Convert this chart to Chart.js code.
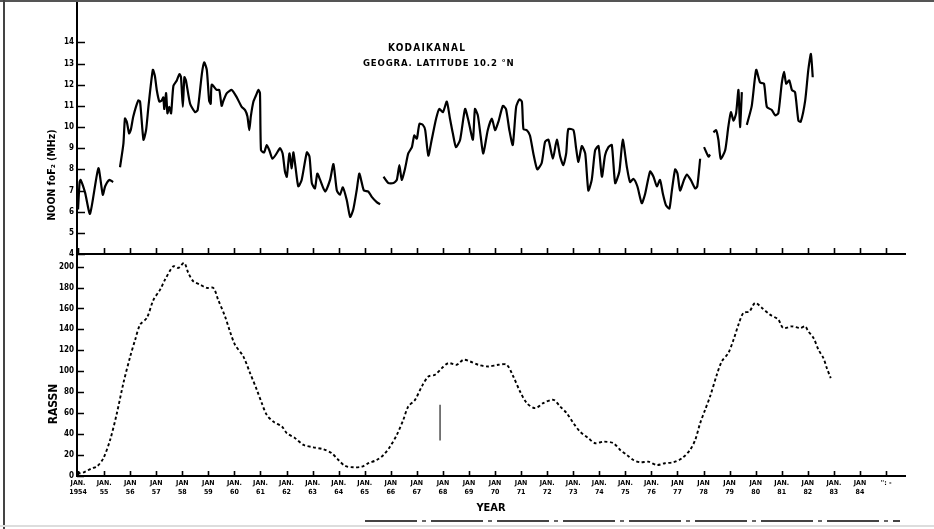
<!DOCTYPE html>
<html>
<head>
<meta charset="utf-8">
<script src="https://cdn.jsdelivr.net/npm/chart.js@4.4.1/dist/chart.umd.min.js"></script>
<style>
  body { margin: 0; background: #fff; }
  #page { position: relative; width: 934px; height: 529px; overflow: hidden; background: #fff;
          font-family: 'DejaVu Sans Condensed', 'DejaVu Sans', sans-serif; font-weight: bold; color: #000; }
  canvas { position: absolute; left: 0; }
  .txt { position: absolute; white-space: nowrap; line-height: 1; }
  .rot { transform: translate(-50%, -50%) rotate(-90deg); }
  .frame { position: absolute; }
</style>
</head>
<body>
<div id="page">
  <canvas id="foChart" width="934" height="274"></canvas>
  <canvas id="rsChart" width="934" height="290"></canvas>

  <div class="txt" style="left:388px; top:43px; font-size:10px; letter-spacing:1.2px;">KODAIKANAL</div>
  <div class="txt" style="left:363px; top:58px; font-size:9.5px; letter-spacing:0.85px;">GEOGRA. LATITUDE 10.2 °N</div>
  <div class="txt rot" style="left:51px; top:175px; font-size:10.5px;">NOON foF₂ (MHz)</div>
  <div class="txt rot" style="left:53px; top:404px; font-size:12px;">RASSN</div>

  <div class="frame" style="left:0; top:0; width:934px; height:2px; background:#555;"></div>
  <div class="frame" style="left:3px; top:0; width:2px; height:529px; background:#444;"></div>
  <div class="frame" style="left:0; top:525px; width:934px; height:2px; background:#ddd;"></div>
  <div class="frame" style="left:365px; top:520px; width:535px; height:1.5px;
       background: repeating-linear-gradient(90deg, #444 0 52px, transparent 52px 57px, #666 57px 61px, transparent 61px 66px);"></div>
</div>

<script>
// noon foF2 (MHz), null = gap in the record
const fof2Year = [
  1954.00, 1954.06, 1954.10, 1954.27, 1954.46, 1954.78, 1954.95, 1955.04, 1955.20, 1955.35,
  1955.48,
  1955.61, 1955.74, 1955.80, 1955.87, 1955.96, 1956.03, 1956.12, 1956.31, 1956.38, 1956.51,
  1956.61, 1956.70, 1956.87, 1956.95, 1957.02, 1957.12, 1957.21, 1957.27, 1957.31, 1957.38,
  1957.43, 1957.50, 1957.57, 1957.66, 1957.79, 1957.89, 1957.95, 1958.02, 1958.08, 1958.14,
  1958.30, 1958.49, 1958.59, 1958.75, 1958.84, 1958.94, 1959.03, 1959.09, 1959.13, 1959.32,
  1959.42, 1959.51, 1959.58, 1959.71, 1959.90, 1960.09, 1960.28, 1960.41, 1960.50, 1960.57,
  1960.63, 1960.73, 1960.83, 1960.92, 1960.98, 1961.02, 1961.14, 1961.24, 1961.34, 1961.46,
  1961.62, 1961.75, 1961.85, 1961.94, 1962.01, 1962.11, 1962.20, 1962.26, 1962.33, 1962.45,
  1962.58, 1962.78, 1962.88, 1962.97, 1963.09, 1963.18, 1963.29, 1963.48, 1963.67, 1963.80,
  1963.93, 1964.05, 1964.16, 1964.31, 1964.44, 1964.56, 1964.69, 1964.79, 1964.89, 1964.97,
  1965.14, 1965.27, 1965.46, 1965.59,
  1965.66,
  1965.72, 1965.91, 1966.10, 1966.23, 1966.33, 1966.42, 1966.55, 1966.67, 1966.81, 1966.90,
  1967.00, 1967.10, 1967.23, 1967.32, 1967.44, 1967.57, 1967.74, 1967.86, 1968.00, 1968.15,
  1968.27, 1968.38, 1968.50, 1968.66, 1968.85, 1968.98, 1969.15, 1969.23, 1969.34, 1969.45,
  1969.55, 1969.72, 1969.88, 1970.00, 1970.13, 1970.30, 1970.42, 1970.55, 1970.68, 1970.81,
  1970.93, 1971.03, 1971.09, 1971.22, 1971.34, 1971.47, 1971.62, 1971.79, 1971.92, 1972.05,
  1972.22, 1972.37, 1972.50, 1972.62, 1972.73, 1972.81, 1973.01, 1973.11, 1973.20, 1973.33,
  1973.46, 1973.58, 1973.71, 1973.84, 1973.97, 1974.10, 1974.22, 1974.35, 1974.48, 1974.61,
  1974.77, 1974.90, 1975.06, 1975.18, 1975.31, 1975.46, 1975.63, 1975.76, 1975.95, 1976.08,
  1976.21, 1976.33, 1976.44, 1976.56, 1976.69, 1976.78, 1976.91, 1977.00, 1977.10, 1977.25,
  1977.36, 1977.51, 1977.68, 1977.76, 1977.87,
  1977.95,
  1978.02, 1978.19, 1978.25,
  1978.31,
  1978.38, 1978.48, 1978.57, 1978.66, 1978.83, 1978.95, 1979.05, 1979.15, 1979.25, 1979.34,
  1979.40, 1979.47,
  1979.56,
  1979.66, 1979.85, 1980.02, 1980.17, 1980.32, 1980.43, 1980.62, 1980.75, 1980.87, 1981.00,
  1981.09, 1981.17, 1981.29, 1981.39, 1981.51, 1981.64, 1981.73, 1981.90, 1982.02, 1982.12,
  1982.19
];
const fof2Value = [
  6.1, 7.4, 7.5, 6.9, 5.9, 8.05, 6.8, 7.2, 7.5, 7.4,
  null,
  8.1, 9.2, 10.4, 10.25, 9.7, 9.9, 10.5, 11.25, 11.2, 9.4,
  9.85, 10.95, 12.7, 12.4, 11.75, 11.2, 11.25, 11.4, 10.85, 11.6,
  10.65, 10.95, 10.65, 11.95, 12.2, 12.5, 12.35, 10.95, 12.35, 12.2,
  11.1, 10.7, 10.8, 12.5, 13.05, 12.7, 11.25, 11.1, 12.0, 11.75,
  11.75, 11.0, 11.25, 11.6, 11.75, 11.4, 10.95, 10.8, 10.5, 9.85,
  10.5, 11.2, 11.5, 11.75, 11.6, 8.9, 8.8, 9.15, 8.9, 8.5,
  8.75, 9.0, 8.75, 7.9, 7.65, 8.75, 8.05, 8.8, 8.25, 7.2,
  7.5, 8.8, 8.6, 7.35, 7.1, 7.8, 7.5, 6.95, 7.5, 8.25,
  7.0, 6.8, 7.15, 6.55, 5.75, 6.1, 7.0, 7.8, 7.35, 7.0,
  6.95, 6.7, 6.45, 6.35,
  null,
  7.65, 7.35, 7.35, 7.5, 8.2, 7.5, 8.05, 8.75, 9.05, 9.6,
  9.45, 10.15, 10.1, 9.85, 8.65, 9.4, 10.4, 10.85, 10.7, 11.2,
  10.4, 9.7, 9.05, 9.4, 10.85, 10.3, 9.4, 10.85, 10.55, 9.55,
  8.75, 9.85, 10.4, 9.85, 10.25, 11.0, 10.85, 9.85, 9.15, 10.95,
  11.3, 11.2, 9.9, 9.85, 9.6, 8.75, 8.0, 8.3, 9.3, 9.4,
  8.5, 9.4, 8.6, 8.2, 8.75, 9.9, 9.85, 9.0, 8.35, 9.1,
  8.75, 7.0, 7.5, 8.9, 9.1, 7.65, 8.65, 9.05, 9.15, 7.35,
  7.9, 9.4, 8.1, 7.4, 7.55, 7.2, 6.4, 6.85, 7.9, 7.65,
  7.2, 7.5, 6.85, 6.3, 6.15, 6.95, 8.0, 7.8, 7.0, 7.5,
  7.75, 7.5, 7.1, 7.2, 8.5,
  null,
  9.05, 8.6, 8.7,
  null,
  9.75, 9.85, 9.4, 8.5, 8.9, 10.0, 10.7, 10.3, 10.65, 11.75,
  10.0, 11.65,
  null,
  10.1, 11.0, 12.7, 12.1, 12.05, 10.95, 10.8, 10.55, 10.65, 12.05,
  12.6, 12.05, 12.2, 11.75, 11.65, 10.3, 10.25, 11.25, 12.7, 13.45,
  12.35
];

// RASSN (smoothed sunspot number)
const rassnYear = [
  1954.00, 1954.08, 1954.27, 1954.53, 1954.72, 1954.97, 1955.23, 1955.49, 1955.74, 1956.00,
  1956.19, 1956.38, 1956.64, 1956.89, 1957.15, 1957.34, 1957.66, 1957.85, 1958.07, 1958.23,
  1958.42, 1958.68, 1958.94, 1959.19, 1959.38, 1959.64, 1959.83, 1960.02, 1960.34, 1960.60,
  1960.86, 1961.05, 1961.24, 1961.49, 1961.82, 1962.01, 1962.33, 1962.65, 1963.03, 1963.41,
  1963.74, 1963.99, 1964.25, 1964.56, 1964.89, 1965.14, 1965.46, 1965.72, 1965.97, 1966.23,
  1966.48, 1966.67, 1966.93, 1967.19, 1967.44, 1967.70, 1967.96, 1968.21, 1968.53, 1968.79,
  1969.04, 1969.36, 1969.74, 1970.13, 1970.45, 1970.70, 1970.96, 1971.22, 1971.54, 1971.85,
  1972.24, 1972.50, 1972.75, 1973.01, 1973.26, 1973.58, 1973.84, 1974.16, 1974.54, 1974.80,
  1975.06, 1975.31, 1975.57, 1975.88, 1976.21, 1976.52, 1976.84, 1977.17, 1977.48, 1977.68,
  1977.87, 1978.06, 1978.25, 1978.51, 1978.70, 1978.95, 1979.15, 1979.34, 1979.53, 1979.76,
  1979.98, 1980.24, 1980.55, 1980.87, 1981.06, 1981.39, 1981.71, 1981.90, 1982.02, 1982.22,
  1982.41, 1982.60, 1982.73, 1982.88
];
const rassnValue = [
  4, 2.6, 4.1, 7.4, 8.9, 16.9, 34.4, 60, 88.7, 114,
  130, 144.5, 151, 168, 178, 187.6, 200.3, 198.7, 203.5, 194,
  186, 182.8, 179.6, 179.6, 168, 152.4, 138, 125.4, 114.2, 98.3,
  82.3, 69.6, 58.4, 52, 47.2, 40.9, 36.1, 29.7, 27.4, 25.5,
  21.7, 15.3, 9.6, 8.3, 8.9, 12.2, 15.3, 20.1, 28, 39.2,
  53.6, 66.3, 72.7, 85.5, 95, 96.7, 103, 107.8, 106.2, 111,
  109.4, 106.2, 104.6, 106.2, 106.2, 95, 80.7, 69.6, 64.8, 69.6,
  72.7, 66.3, 60, 50.4, 42.4, 36.1, 31.3, 32.8, 31.3, 24.9,
  20.1, 15.3, 13.1, 13.7, 10.5, 12.2, 13.1, 16.9, 24.9, 34.4,
  50.4, 63.2, 75.9, 96.7, 109.4, 117.4, 130.1, 144.5, 155.7, 157.2,
  165.3, 160.5, 154.1, 149.3, 141.3, 142.9, 141.3, 142.9, 138.1, 131.8,
  120.6, 112.6, 103.1, 93.5
];

// stray stroke in the lower panel near 1968
const strokeYear = [1967.89, 1967.89];
const strokeValue = [34, 68];

const tickYears = [1954, 1955, 1956, 1957, 1958, 1959, 1960, 1961, 1962, 1963, 1964,
  1965, 1966, 1967, 1968, 1969, 1970, 1971, 1972, 1973, 1974, 1975, 1976, 1977, 1978,
  1979, 1980, 1981, 1982, 1983, 1984, 1985];
const tickLine1 = ['JAN.', 'JAN.', 'JAN', 'JAN', 'JAN', 'JAN', 'JAN.', 'JAN.', 'JAN.', 'JAN.', 'JAN.',
  'JAN.', 'JAN', 'JAN', 'JAN', 'JAN', 'JAN', 'JAN', 'JAN.', 'JAN.', 'JAN.', 'JAN.', 'JAN.', 'JAN', 'JAN',
  'JAN', 'JAN', 'JAN.', 'JAN', 'JAN.', 'JAN', "'': -"];
const tickLine2 = ['1954', '55', '56', '57', '58', '59', '60', '61', '62', '63', '64',
  '65', '66', '67', '68', '69', '70', '71', '72', '73', '74', '75', '76', '77', '78',
  '79', '80', '81', '82', '83', '84', ''];

const fof2Ticks = [4, 5, 6, 7, 8, 9, 10, 11, 12, 13, 14];
const rassnTicks = [0, 20, 40, 60, 80, 100, 120, 140, 160, 180, 200];

const X_MIN = 1953.96;
const X_MAX = 1985.73;
const FONT = "'DejaVu Sans Condensed', 'DejaVu Sans', sans-serif";

// tick marks drawn inside the axes, as in the original figure
const innerTicks = {
    id: 'innerTicks',
    afterDraw(chart, args, opts) {
        const { ctx, chartArea: a, scales: { x, y } } = chart;
        ctx.save();
        ctx.strokeStyle = '#000';
        ctx.lineWidth = 1.6;
        ctx.beginPath();
        y.ticks.forEach(t => {
            const py = Math.round(y.getPixelForValue(t.value)) + 0.5;
            ctx.moveTo(a.left, py);
            ctx.lineTo(a.left + opts.yLen, py);
        });
        tickYears.forEach(v => {
            const px = Math.round(x.getPixelForValue(v)) + 0.5;
            ctx.moveTo(px, a.bottom);
            ctx.lineTo(px, a.bottom - opts.xLen);
        });
        ctx.stroke();
        ctx.restore();
    }
};

const yTickFont = { family: FONT, size: 8, weight: 'bold' };

const foCanvas = document.getElementById('foChart');
const foChart = new Chart(foCanvas, {
    type: 'line',
    data: {
        datasets: [{
            data: fof2Year.map((yr, i) => ({ x: yr, y: fof2Value[i] })),
            borderColor: '#000',
            borderWidth: 2.2,
            pointRadius: 0,
            tension: 0.2,
            spanGaps: false
        }]
    },
    options: {
        responsive: false,
        animation: false,
        devicePixelRatio: 1,
        layout: { padding: { top: 10, right: 29, left: 0, bottom: 0 } },
        plugins: { legend: { display: false }, tooltip: { enabled: false }, innerTicks: { xLen: 6, yLen: 8 } },
        scales: {
            x: {
                type: 'linear', min: X_MIN, max: X_MAX,
                ticks: { display: false },
                grid: { display: false, drawTicks: false },
                border: { color: '#000', width: 2 },
                afterFit(s) { s.height = 10; }
            },
            y: {
                min: 4, max: 16,
                afterBuildTicks(s) { s.ticks = fof2Ticks.map(v => ({ value: v })); },
                ticks: { font: yTickFont, color: '#000', padding: 3 },
                grid: { display: false, drawTicks: false },
                border: { color: '#000', width: 2 },
                afterFit(s) { s.width = 77; }
            }
        }
    },
    plugins: [innerTicks]
});
foCanvas.style.top = (-foChart.chartArea.top) + 'px';

const rsCanvas = document.getElementById('rsChart');
const rsChart = new Chart(rsCanvas, {
    type: 'line',
    data: {
        datasets: [{
            data: rassnYear.map((yr, i) => ({ x: yr, y: rassnValue[i] })),
            borderColor: '#000',
            borderWidth: 1.9,
            borderDash: [3, 2.5],
            pointRadius: 0,
            tension: 0.3
        }, {
            data: strokeYear.map((yr, i) => ({ x: yr, y: strokeValue[i] })),
            borderColor: '#222',
            borderWidth: 1.2,
            pointRadius: 0
        }]
    },
    options: {
        responsive: false,
        animation: false,
        devicePixelRatio: 1,
        layout: { padding: { top: 15, right: 29, left: 0, bottom: 0 } },
        plugins: { legend: { display: false }, tooltip: { enabled: false }, innerTicks: { xLen: 5, yLen: 7 } },
        scales: {
            x: {
                type: 'linear', min: X_MIN, max: X_MAX,
                afterBuildTicks(s) { s.ticks = tickYears.map(v => ({ value: v })); },
                ticks: {
                    font: { family: FONT, size: 7, weight: 'bold', lineHeight: 1.25 },
                    color: '#000', padding: 3, autoSkip: false, maxRotation: 0, minRotation: 0,
                    callback: (v, i) => [tickLine1[i], tickLine2[i]]
                },
                title: {
                    display: true, text: 'YEAR', color: '#000',
                    font: { family: FONT, size: 11, weight: 'bold' },
                    padding: { top: 0, bottom: 14 }
                },
                grid: { display: false, drawTicks: false },
                border: { color: '#000', width: 2 },
                afterFit(s) { s.height = 53; }
            },
            y: {
                min: 0, max: 212,
                afterBuildTicks(s) { s.ticks = rassnTicks.map(v => ({ value: v })); },
                ticks: { font: yTickFont, color: '#000', padding: 3 },
                grid: { display: false, drawTicks: false },
                border: { color: '#000', width: 2 },
                afterFit(s) { s.width = 77; }
            }
        }
    },
    plugins: [innerTicks]
});
rsCanvas.style.top = (254 - rsChart.chartArea.top) + 'px';
</script>
</body>
</html>
